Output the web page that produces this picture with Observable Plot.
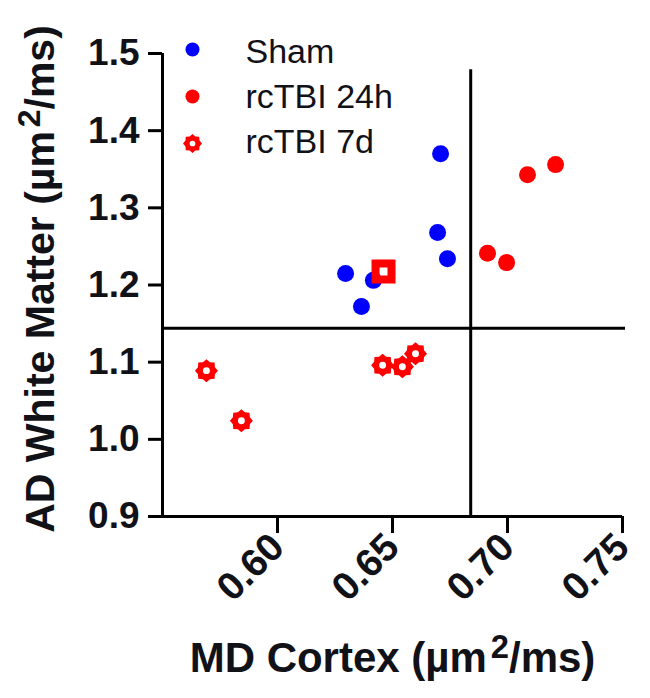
<!DOCTYPE html>
<html>
<head>
<meta charset="utf-8">
<script src="https://cdn.jsdelivr.net/npm/d3@7"></script>
<script src="https://cdn.jsdelivr.net/npm/@observablehq/plot@0.6"></script>
<style>
  body { margin: 0; background: #fff; }
  #chart svg { display: block; }
</style>
</head>
<body>
<div id="chart"></div>
<script>
// ---- data ----
const seriesNames = ["Sham", "rcTBI 24h", "rcTBI 7d"];

const shamMD = [0.6296, 0.6417, 0.6365, 0.6709, 0.6696, 0.6739];
const shamAD = [1.215, 1.206, 1.172, 1.370, 1.268, 1.234];

const tbi24MD = [0.7087, 0.7209, 0.6913, 0.6996];
const tbi24AD = [1.343, 1.356, 1.241, 1.229];

const squareMD = [0.6461];
const squareAD = [1.2175];

const tbi7MD = [0.5691, 0.5843, 0.6457, 0.6543, 0.6600];
const tbi7AD = [1.089, 1.024, 1.096, 1.094, 1.111];

const refMD = 0.684;   // vertical reference line
const refAD = 1.144;   // horizontal reference line
const refTop = 1.479;
const refRight = 0.7513;

const xDomain = [0.55, 0.75];
const yDomain = [0.9, 1.5];
const xTicks = [0.60, 0.65, 0.70, 0.75];
const yTicks = [0.9, 1.0, 1.1, 1.2, 1.3, 1.4, 1.5];

const xLabel = "MD Cortex (µm²/ms)";
const yLabel = "AD White Matter (µm²/ms)";

// ---- helpers ----
const rows = (xs, ys) => xs.map((x, i) => ({x, y: ys[i]}));

const gear = {
  draw(ctx, size) {
    const r = Math.sqrt(size / Math.PI);
    const n = 8;
    for (let i = 0; i < 2 * n; ++i) {
      const a = (i / (2 * n)) * 2 * Math.PI;
      const rr = i % 2 ? r * 0.8 : r;
      const px = rr * Math.cos(a), py = rr * Math.sin(a);
      if (i === 0) ctx.moveTo(px, py); else ctx.lineTo(px, py);
    }
    ctx.closePath();
    const h = r * 0.3;
    ctx.moveTo(h, 0);
    ctx.arc(0, 0, h, 0, 2 * Math.PI, true);
    ctx.closePath();
  }
};

const openSquare = {
  draw(ctx, size) {
    const s = Math.sqrt(size / Math.PI);
    ctx.moveTo(-s, -s); ctx.lineTo(s, -s); ctx.lineTo(s, s); ctx.lineTo(-s, s); ctx.closePath();
    const h = s * 0.33;
    ctx.moveTo(-h, -h); ctx.lineTo(-h, h); ctx.lineTo(h, h); ctx.lineTo(h, -h); ctx.closePath();
  }
};

const BLUE = "#0000ff", RED = "#ff0000", INK = "#111118";
const FONT = "'Liberation Sans', Arial, Helvetica, sans-serif";

const legendStyles = [
  {symbol: "circle", fill: BLUE, r: 7},
  {symbol: "circle", fill: RED, r: 7},
  {symbol: gear, fill: RED, r: 9.5}
];
const legendMarks = seriesNames.flatMap((name, i) => [
  Plot.dot([name], {frameAnchor: "top-left", dx: 30, dy: -4 + 47 * i,
    symbol: legendStyles[i].symbol, fill: legendStyles[i].fill, r: legendStyles[i].r}),
  Plot.text([name], {text: d => d, frameAnchor: "top-left", dx: 83, dy: -1 + 45 * i,
    textAnchor: "start", lineAnchor: "middle", fontSize: 34, fill: INK})
]);

const chart = Plot.plot({
  width: 650,
  height: 698,
  marginLeft: 162,
  marginRight: 28,
  marginTop: 53,
  marginBottom: 182,
  style: {fontFamily: FONT, background: "#fff", overflow: "visible"},
  x: {domain: xDomain, axis: null},
  y: {domain: yDomain, axis: null},
  marks: [
    Plot.axisY({ticks: yTicks, tickFormat: d3.format(".1f"), tickSize: 14, tickPadding: 9,
      strokeWidth: 3, fontSize: 37, fontWeight: "bold", fill: INK, label: null}),
    Plot.axisX({ticks: xTicks, tickFormat: d3.format(".2f"), tickSize: 17, tickPadding: 7,
      tickRotate: -45, strokeWidth: 3, fontSize: 39, fontWeight: "bold", fill: INK, label: null}),
    Plot.ruleX([xDomain[0]], {y1: yDomain[0], y2: yDomain[1], strokeWidth: 3}),
    Plot.ruleY([yDomain[0]], {x1: xDomain[0], x2: xDomain[1], strokeWidth: 3}),
    Plot.ruleX([refMD], {y1: yDomain[0], y2: refTop, strokeWidth: 3}),
    Plot.ruleY([refAD], {x1: xDomain[0], x2: refRight, strokeWidth: 3}),
    Plot.dot(rows(shamMD, shamAD), {x: "x", y: "y", r: 8.5, symbol: "circle", fill: BLUE}),
    Plot.dot(rows(tbi24MD, tbi24AD), {x: "x", y: "y", r: 8.5, symbol: "circle", fill: RED}),
    Plot.dot(rows(squareMD, squareAD), {x: "x", y: "y", r: 12, symbol: openSquare, fill: RED}),
    Plot.dot(rows(tbi7MD, tbi7AD), {x: "x", y: "y", r: 11.5, symbol: gear, fill: RED}),
    ...legendMarks,
    Plot.text([xLabel], {text: d => d, frameAnchor: "bottom", dy: 142, textAnchor: "middle",
      lineAnchor: "middle", fontSize: 42, fontWeight: "bold", fill: INK}),
    Plot.text([yLabel], {text: d => d, frameAnchor: "left", dx: -122, dy: -6, rotate: -90,
      textAnchor: "middle", lineAnchor: "middle", fontSize: 41, fontWeight: "bold", fill: INK})
  ]
});

// render superscript "2" as a raised tspan
d3.select(chart).selectAll("text").each(function() {
  const t = this.textContent;
  if (t.includes("µm²")) {
    const [a, b] = t.split("²");
    const sel = d3.select(this);
    sel.text(null);
    sel.append("tspan").text(a);
    sel.append("tspan").attr("dy", "-0.42em").attr("font-size", "0.78em").attr("dx", "0.12em").text("2");
    sel.append("tspan").attr("dy", "0.33em").text(b);
  }
});

document.getElementById("chart").append(chart);
</script>
</body>
</html>
